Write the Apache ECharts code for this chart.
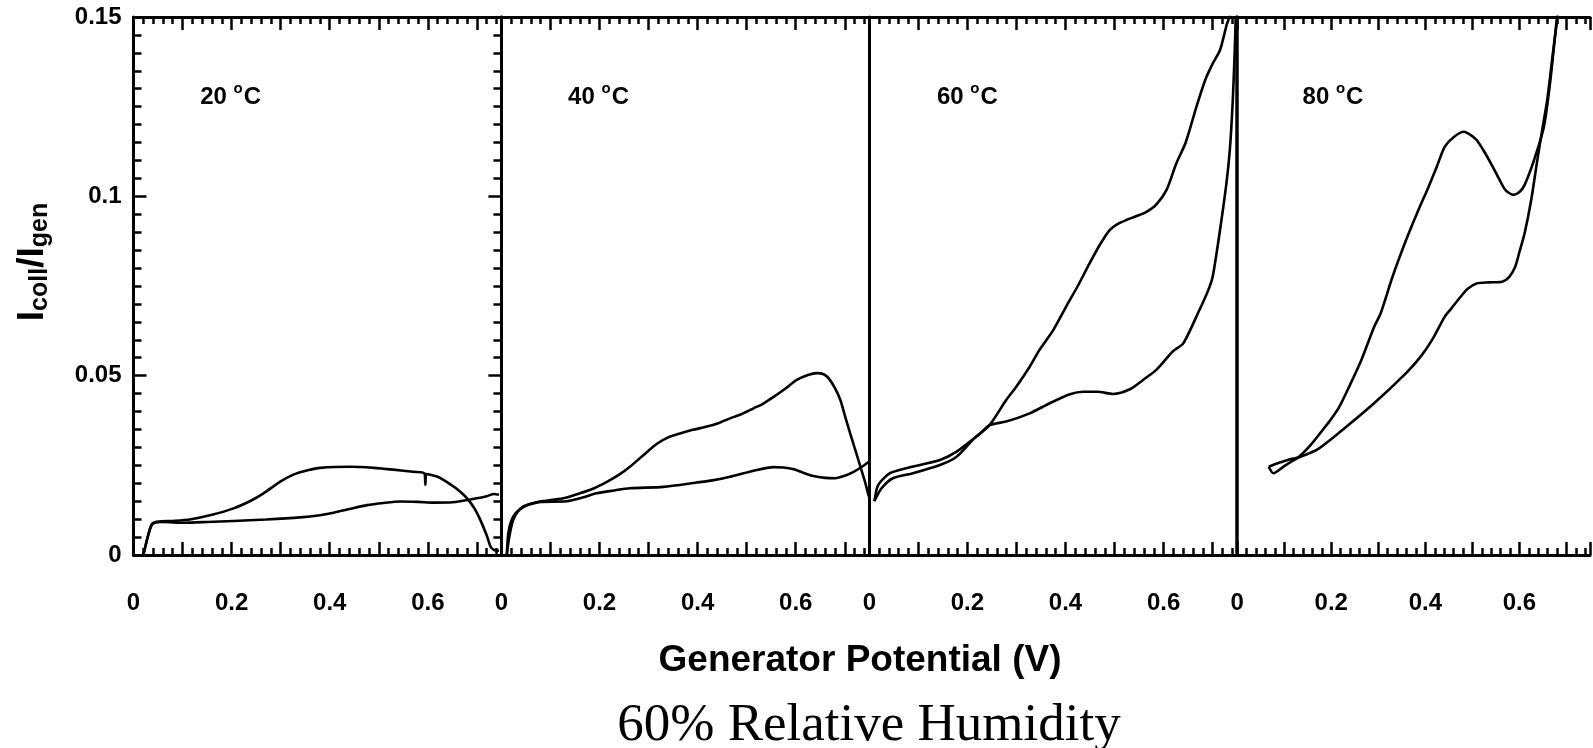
<!DOCTYPE html>
<html>
<head>
<meta charset="utf-8">
<script src="https://cdn.jsdelivr.net/npm/echarts@6/dist/echarts.min.js"></script>
<style>html,body{margin:0;padding:0;background:#fff}#c{width:1593px;height:748px}</style>
</head>
<body>
<div id="c"></div>
<script>
// ---------- data ----------
const panelNames = ['20 °C', '40 °C', '60 °C', '80 °C'];
const panelTemps = ['20', '40', '60', '80'];
const labelX = [0.136, 0.136, 0.138, 0.139];
const labelY = [0.1277, 0.1277, 0.1277, 0.1277];

const xTickLabels = ['0', '', '0.2', '', '0.4', '', '0.6', '', ''];
const yTickLabels = ['0', '0.05', '0.1', '0.15'];

const p20A = [[0.02,0],[0.03,0.0055],[0.037,0.0085],[0.05,0.0093],[0.08,0.0095],[0.115,0.0099],[0.16,0.0112],[0.204,0.013],[0.24,0.0152],[0.265,0.0172],[0.3,0.0205],[0.326,0.0224],[0.355,0.0236],[0.381,0.0243],[0.442,0.0246],[0.49,0.0243],[0.53,0.0238],[0.57,0.0232],[0.593,0.0228],[0.595,0.0196],[0.597,0.0226],[0.62,0.0218],[0.646,0.0197],[0.665,0.0178],[0.68,0.0158],[0.695,0.013],[0.707,0.0098],[0.72,0.0055],[0.728,0.0023],[0.735,0.0014],[0.745,0.0012]];
const p20B = [[0.02,0],[0.032,0.0065],[0.04,0.0088],[0.06,0.0092],[0.102,0.009],[0.15,0.0092],[0.204,0.0095],[0.27,0.0099],[0.34,0.0105],[0.38,0.0111],[0.408,0.0118],[0.44,0.0128],[0.476,0.0139],[0.51,0.0145],[0.544,0.0149],[0.58,0.0148],[0.612,0.0146],[0.65,0.0147],[0.70,0.0158],[0.72,0.0164],[0.735,0.017],[0.745,0.0168]];

const p40A = [[0.011,0],[0.016,0.005],[0.024,0.0098],[0.034,0.0122],[0.044,0.0135],[0.06,0.0143],[0.079,0.0149],[0.126,0.0158],[0.16,0.0172],[0.19,0.0187],[0.215,0.0204],[0.24,0.0224],[0.262,0.0246],[0.29,0.0279],[0.317,0.031],[0.34,0.0328],[0.364,0.0339],[0.39,0.0349],[0.419,0.0358],[0.445,0.0369],[0.466,0.0381],[0.49,0.0393],[0.514,0.0409],[0.535,0.0423],[0.555,0.0441],[0.58,0.0465],[0.602,0.0488],[0.625,0.0502],[0.643,0.0507],[0.657,0.0504],[0.667,0.0493],[0.68,0.0465],[0.691,0.0432],[0.70,0.039],[0.711,0.0339],[0.722,0.029],[0.732,0.0246],[0.741,0.0205],[0.749,0.0163]];
const p40B = [[0.011,0],[0.014,0.006],[0.02,0.0095],[0.03,0.0118],[0.044,0.0133],[0.06,0.0142],[0.079,0.0148],[0.133,0.015],[0.165,0.016],[0.194,0.0172],[0.23,0.018],[0.262,0.0186],[0.33,0.019],[0.398,0.0202],[0.43,0.0208],[0.466,0.0218],[0.514,0.0235],[0.555,0.0245],[0.575,0.0244],[0.596,0.0239],[0.616,0.0229],[0.636,0.022],[0.66,0.0215],[0.681,0.0214],[0.70,0.0221],[0.718,0.0232],[0.735,0.0246],[0.749,0.026]];

const p60A = [[0.0105,0.015],[0.018,0.0195],[0.042,0.0228],[0.075,0.0242],[0.144,0.0265],[0.178,0.0288],[0.226,0.0339],[0.245,0.0362],[0.279,0.0372],[0.327,0.0395],[0.368,0.0423],[0.409,0.0448],[0.436,0.0455],[0.465,0.0455],[0.497,0.0449],[0.531,0.0462],[0.56,0.049],[0.585,0.0516],[0.619,0.0568],[0.64,0.059],[0.673,0.0683],[0.69,0.0735],[0.70,0.0776],[0.714,0.0897],[0.728,0.1036],[0.735,0.113],[0.741,0.1268],[0.745,0.1408],[0.747,0.15]];
const p60B = [[0.0105,0.015],[0.0113,0.0153],[0.025,0.0186],[0.048,0.0214],[0.089,0.0228],[0.144,0.0251],[0.178,0.0274],[0.211,0.0321],[0.245,0.0362],[0.279,0.0432],[0.30,0.047],[0.327,0.0525],[0.347,0.0572],[0.375,0.0627],[0.401,0.0692],[0.425,0.075],[0.449,0.0813],[0.47,0.0865],[0.49,0.0906],[0.505,0.0922],[0.524,0.0934],[0.545,0.0945],[0.565,0.0957],[0.585,0.0977],[0.606,0.1018],[0.626,0.1092],[0.645,0.115],[0.667,0.125],[0.685,0.1325],[0.70,0.137],[0.715,0.1408],[0.729,0.148],[0.736,0.1505]];

const p80A = [[0.067,0.0246],[0.09,0.0258],[0.11,0.0266],[0.131,0.0274],[0.155,0.0305],[0.176,0.0339],[0.197,0.0374],[0.217,0.0413],[0.24,0.0475],[0.264,0.0544],[0.291,0.0636],[0.305,0.0674],[0.33,0.0775],[0.359,0.0878],[0.383,0.0955],[0.407,0.1027],[0.425,0.1085],[0.441,0.1138],[0.46,0.1165],[0.482,0.118],[0.495,0.1172],[0.509,0.1157],[0.525,0.1125],[0.543,0.1083],[0.557,0.1048],[0.57,0.1018],[0.587,0.1004],[0.60,0.1012],[0.611,0.1032],[0.631,0.1101],[0.652,0.1194],[0.665,0.1315],[0.672,0.14],[0.679,0.149],[0.681,0.151]];
const p80B = [[0.067,0.0246],[0.077,0.0228],[0.10,0.0248],[0.131,0.0272],[0.169,0.0293],[0.223,0.0348],[0.291,0.0423],[0.359,0.0507],[0.39,0.0553],[0.414,0.0599],[0.441,0.0664],[0.455,0.0687],[0.475,0.072],[0.49,0.0742],[0.509,0.0757],[0.535,0.076],[0.563,0.0762],[0.578,0.0775],[0.591,0.0804],[0.60,0.0845],[0.611,0.0897],[0.625,0.099],[0.638,0.1101],[0.649,0.119],[0.659,0.1268],[0.672,0.1408],[0.682,0.151]];

const panelData = [[p20A, p20B], [p40A, p40B], [p60A, p60B], [p80A, p80B]];

// ---------- layout ----------
const FONT = "'Liberation Sans', Arial, sans-serif";
const gridLeft0 = 133.5, gridStep = 367.9, gridW = 367.9, gridTop = 17, gridH = 538;
const XMAX = 0.75, YMAX = 0.15;
const LW = 3;

const grids = [], xAxes = [], yAxes = [], series = [];
const yIndexOfGrid = [];

for (let i = 0; i < 4; i++) {
  grids.push({left: gridLeft0 + i * gridStep, top: gridTop, width: gridW, height: gridH, containLabel: false});
  const base = {gridIndex: i, type: 'value', min: 0, max: XMAX, splitLine: {show: false}};
  xAxes.push(Object.assign({}, base, {
    position: 'bottom', interval: 0.1,
    axisLine: {show: true, onZero: false, lineStyle: {color: '#000', width: LW}},
    axisTick: {show: true, inside: true, length: 13, lineStyle: {color: '#000', width: 2.5}},
    axisLabel: {show: true, margin: 36, color: '#000', fontSize: 24, fontWeight: 'bold', fontFamily: FONT,
      formatter: v => xTickLabels[Math.round(v / 0.1)] || ''}
  }));
  xAxes.push(Object.assign({}, base, {
    position: 'bottom', interval: 0.02,
    axisLine: {show: false, onZero: false},
    axisTick: {show: true, inside: true, length: 7, lineStyle: {color: '#000', width: 2.5}},
    axisLabel: {show: false}
  }));
  xAxes.push(Object.assign({}, base, {
    position: 'top', interval: 0.1,
    axisLine: {show: true, onZero: false, lineStyle: {color: '#000', width: LW}},
    axisTick: {show: true, inside: true, length: 13, lineStyle: {color: '#000', width: 2.5}},
    axisLabel: {show: false}
  }));
  xAxes.push(Object.assign({}, base, {
    position: 'top', interval: 0.02,
    axisLine: {show: false, onZero: false},
    axisTick: {show: true, inside: true, length: 7, lineStyle: {color: '#000', width: 2.5}},
    axisLabel: {show: false}
  }));

  const ybase = {gridIndex: i, type: 'value', min: 0, max: YMAX, interval: 0.05, splitLine: {show: false}};
  if (i === 0) {
    yIndexOfGrid.push(yAxes.length);
    yAxes.push(Object.assign({}, ybase, {
      position: 'left',
      axisLine: {show: true, onZero: false, lineStyle: {color: '#000', width: LW}},
      axisTick: {show: true, inside: true, length: 13, lineStyle: {color: '#000', width: 2.5}},
      minorTick: {show: true, splitNumber: 10, length: 8, lineStyle: {color: '#000', width: 2.5}},
      axisLabel: {show: true, inside: false, margin: 12, color: '#000', fontSize: 24, fontWeight: 'bold', fontFamily: FONT,
        formatter: v => yTickLabels[Math.round(v / 0.05)]}
    }));
    yAxes.push(Object.assign({}, ybase, {
      position: 'right',
      axisLine: {show: true, onZero: false, lineStyle: {color: '#000', width: LW}},
      axisTick: {show: true, inside: true, length: 13, lineStyle: {color: '#000', width: 2.5}},
      minorTick: {show: true, splitNumber: 10, length: 8, lineStyle: {color: '#000', width: 2.5}},
      axisLabel: {show: false}
    }));
  } else {
    yIndexOfGrid.push(yAxes.length);
    yAxes.push(Object.assign({}, ybase, {
      position: 'left',
      axisLine: {show: true, onZero: false, lineStyle: {color: '#000', width: i === 3 ? 3.5 : LW}},
      axisTick: {show: false},
      axisLabel: {show: false}
    }));
  }

  panelData[i].forEach(d => {
    series.push({
      type: 'line', xAxisIndex: i * 4, yAxisIndex: yIndexOfGrid[i],
      data: d, showSymbol: false, symbol: 'none', smooth: 0.25,
      lineStyle: {color: '#000', width: 2.6}, silent: true, animation: false
    });
  });

  series.push({
    type: 'scatter', xAxisIndex: i * 4, yAxisIndex: yIndexOfGrid[i],
    data: [[labelX[i], labelY[i]]], symbolSize: 0, silent: true, animation: false,
    itemStyle: {color: '#000', opacity: 1},
    label: {
      show: true, position: 'right', distance: 0, color: '#000',
      formatter: '{n|' + panelTemps[i] + ' }{o|o}{n|C}',
      rich: {
        n: {fontSize: 24, fontWeight: 'bold', fontFamily: FONT, color: '#000'},
        o: {fontSize: 15, fontWeight: 'bold', fontFamily: FONT, color: '#000', padding: [0, 1, 17, 0]}
      }
    }
  });
}

const chart = echarts.init(document.getElementById('c'), null, {renderer: 'canvas'});
chart.setOption({
  animation: false,
  backgroundColor: '#fff',
  grid: grids,
  xAxis: xAxes,
  yAxis: yAxes,
  series: series,
  graphic: [
    {
      type: 'text', x: 33, y: 262, rotation: Math.PI / 2,
      style: {
        text: '{b|I}{s|coll}{b|/I}{s|gen}',
        align: 'center', verticalAlign: 'middle',
        rich: {
          b: {fontSize: 37, fontWeight: 'bold', fontFamily: FONT, fill: '#000'},
          s: {fontSize: 25, fontWeight: 'bold', fontFamily: FONT, fill: '#000', padding: [15, 0, 0, 0]}
        }
      }
    },
    {
      type: 'text', x: 860, y: 661,
      style: {text: 'Generator Potential (V)', align: 'center', verticalAlign: 'middle',
        font: "bold 37px 'Liberation Sans', Arial, sans-serif", fill: '#000'}
    },
    {
      type: 'text', x: 869, y: 726,
      style: {text: '60% Relative Humidity', align: 'center', verticalAlign: 'middle',
        font: "53px 'Liberation Serif', 'Times New Roman', serif", fill: '#000'}
    }
  ]
});
</script>
</body>
</html>
